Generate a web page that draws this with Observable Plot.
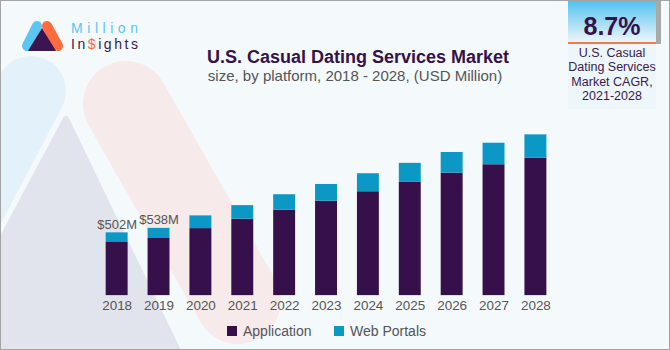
<!DOCTYPE html>
<html>
<head>
<meta charset="utf-8">
<script src="https://cdn.jsdelivr.net/npm/d3@7"></script>
<script src="https://cdn.jsdelivr.net/npm/@observablehq/plot@0.6"></script>
<style>
  html, body { margin: 0; padding: 0; background: #ffffff; }
  #wrap { position: relative; width: 670px; height: 350px; overflow: hidden; background: #f4f9fc;
          box-sizing: border-box; border: 1px solid #a3a3a3; font-family: "Liberation Sans", Arial, sans-serif; }
  #wrap > * { position: absolute; }
  #title { left: 0; width: 714px; top: 46px; text-align: center; font-weight: bold; font-size: 18px; color: #35124a; line-height: 20px; }
  #subtitle { left: 0; width: 708px; top: 66px; text-align: center; font-size: 15px; color: #555; line-height: 17px; }
  #cagr { left: 567px; top: 0; width: 88px; height: 108px;
          background: linear-gradient(#4fc3ef 0px, #9fdaf3 20px, #e2f2fa 38px, #edf6fb 44px, #edf6fb 108px); }
  #cagr .num { position: absolute; left: 0; width: 88px; top: 10px; text-align: center; font-weight: bold; font-size: 25px; color: #35124a; line-height: 30px; }
  #cagr .rule { position: absolute; left: 0; width: 88px; top: 41px; height: 2px; background: #ef7b4e; }
  #cagr .txt { position: absolute; left: -4px; width: 96px; top: 45px; text-align: center; font-size: 12.5px; line-height: 14.3px; color: #3a1a4f; }
  #shade { left: 655px; top: 0; width: 5px; height: 43px; background: #a9a9a9; }
  .leg { top: 322px; font-size: 14px; color: #555; line-height: 16px; display: flex; align-items: center; }
  .leg span.sw { display: inline-block; width: 10px; height: 10px; margin-right: 6px; }
</style>
</head>
<body>
<div id="wrap">
  <svg id="bg" width="670" height="350" style="left:0;top:0">
    <line x1="30" y1="90" x2="-70" y2="280" stroke="#e3f1fa" stroke-width="70" stroke-linecap="round"/>
    <line x1="125" y1="103" x2="237" y2="300" stroke="#f6eaea" stroke-width="86" stroke-linecap="round"/>
    <path d="M65,118 L178,352 L-60,352 Z" fill="#e1e4ec" stroke="#e1e4ec" stroke-width="6" stroke-linejoin="round"/>
    <g>
      <line x1="26" y1="45" x2="36" y2="25" stroke="#5cc5f2" stroke-width="10" stroke-linecap="round"/>
      <line x1="46" y1="25" x2="57" y2="45" stroke="#ff6b3d" stroke-width="10" stroke-linecap="round"/>
      <path d="M41,27 L55,50 L27,50 Z" fill="#3b1450"/>
      <text x="70" y="32" font-size="14" fill="#5cc5f2" textLength="67" lengthAdjust="spacing" font-family="Liberation Sans, Arial, sans-serif">Million</text>
      <text x="70" y="48" font-size="14" fill="#3b1a4f" textLength="67" lengthAdjust="spacing" font-family="Liberation Sans, Arial, sans-serif">In<tspan fill="#ff6b3d">$</tspan>ights</text>
    </g>
  </svg>
  <div id="title">U.S. Casual Dating Services Market</div>
  <div id="subtitle">size, by platform, 2018 - 2028, (USD Million)</div>
  <div id="shade"></div>
  <div id="cagr">
    <div class="num">8.7%</div>
    <div class="rule"></div>
    <div class="txt">U.S. Casual<br>Dating Services<br>Market CAGR,<br>2021-2028</div>
  </div>
  <div id="chart" style="left:0;top:0"></div>
  <div class="leg" style="left:226px"><span class="sw" style="background:#36104a"></span>Application</div>
  <div class="leg" style="left:333px"><span class="sw" style="background:#0b98c5"></span>Web Portals</div>
</div>
<script>
const years = ["2018","2019","2020","2021","2022","2023","2024","2025","2026","2027","2028"];
const application = [425, 457, 536, 611, 683, 755, 831, 906, 980, 1047, 1100];
const webPortals = [77, 81, 102, 109, 124, 134, 144, 152, 165, 172, 186];
const series = ["Application", "Web Portals"];
const seriesColors = ["#36104a", "#0b98c5"];
const annotatedYears = ["2018", "2019"];
const annotationLabels = ["$502M", "$538M"];

const rows = years.flatMap((year, i) => [
  {year, platform: series[0], value: application[i]},
  {year, platform: series[1], value: webPortals[i]}
]);
const annotations = annotatedYears.map((year, i) => {
  const k = years.indexOf(year);
  return {year, label: annotationLabels[i], total: application[k] + webPortals[k]};
});

const chart = Plot.plot({
  width: 670,
  height: 350,
  marginLeft: 85,
  marginRight: 103,
  marginTop: 132,
  marginBottom: 55,
  style: {background: "transparent", color: "#555", fontFamily: "Liberation Sans, Arial, sans-serif", overflow: "visible"},
  x: {domain: years, padding: 0.476, axis: null},
  y: {domain: [0, 1300], axis: null},
  color: {domain: series, range: seriesColors},
  marks: [
    Plot.barY(rows, {x: "year", y: "value", fill: "platform"}),
    Plot.axisX({tickSize: 0, tickPadding: 5, fontSize: 13.5, label: null}),
    Plot.text(annotations, {x: "year", y: "total", text: "label", dy: -4, lineAnchor: "bottom", fill: "#555", fontSize: 13})
  ]
});
document.getElementById("chart").appendChild(chart);
</script>
</body>
</html>
